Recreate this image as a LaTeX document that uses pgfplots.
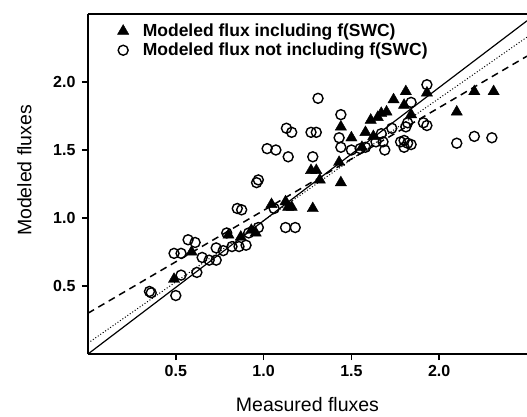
\documentclass[border=0pt]{standalone}
\usepackage{pgfplots}
\pgfplotsset{compat=1.18}
\usepackage{fontspec}
\setmainfont{Liberation Sans}
\begin{document}
\begin{tikzpicture}
\begin{axis}[
  scale only axis,
  width=439pt, height=340pt,
  xmin=0, xmax=2.5, ymin=0, ymax=2.5,
  axis x line*=box, axis y line*=left,
  xtick pos=bottom,
  axis line style={line width=2pt},
  xtick={0.5,1,1.5,2}, ytick={0.5,1,1.5,2},
  tick align=outside, major tick length=6pt,
  tick style={line width=1.5pt, black},
  /pgf/number format/assume math mode=true,
  /pgf/number format/.cd, fixed, fixed zerofill, precision=1, /pgfplots/.cd,
  ticklabel style={font=\fontsize{16}{18}\selectfont\bfseries},
  xticklabel style={yshift=-2pt},
  yticklabel style={xshift=-3pt},
  xlabel={Measured fluxes}, ylabel={Modeled fluxes},
  label style={font=\fontsize{19.5}{22}\selectfont},
  xlabel style={at={(axis description cs:0.5,-0.15)}, anchor=center},
  ylabel style={at={(axis description cs:-0.145,0.54)}, anchor=center},
  legend style={at={(axis description cs:0.06,0.983)}, anchor=north west, draw=none, fill=none,
    font=\fontsize{17.5}{20}\selectfont\bfseries, row sep=1pt},
  legend cell align=left,
  clip=false,
]
\addplot[only marks, mark=triangle*, mark size=6.5pt, black] coordinates {
(0.49,0.55) (0.59,0.75) (0.80,0.875) (0.87,0.86) (0.93,0.91) (0.955,0.89)
(1.045,1.10) (1.125,1.12) (1.14,1.08) (1.16,1.08) (1.28,1.07) (1.27,1.35)
(1.30,1.35) (1.32,1.28) (1.43,1.41) (1.44,1.67) (1.50,1.59) (1.56,1.52)
(1.58,1.63) (1.61,1.72) (1.65,1.74) (1.67,1.77) (1.70,1.78) (1.625,1.60)
(1.74,1.87) (1.81,1.93) (1.80,1.83) (1.84,1.76) (1.93,1.92) (2.10,1.78)
(2.20,1.93) (2.31,1.93) (1.44,1.26)
};
\addlegendentry{\hspace{12pt}Modeled flux including f(SWC)}
\addplot[only marks, mark=o, mark size=5pt, black, mark options={line width=1.4pt, fill=white}] coordinates {
(0.35,0.46) (0.36,0.45) (0.50,0.43) (0.53,0.58) (0.49,0.74) (0.53,0.74)
(0.57,0.84) (0.61,0.82) (0.62,0.60) (0.65,0.71) (0.69,0.69) (0.73,0.69)
(0.73,0.78) (0.77,0.76) (0.79,0.89) (0.82,0.79) (0.86,0.79) (0.85,1.07)
(0.875,1.06) (0.90,0.80) (0.915,0.89) (0.96,1.26) (0.97,1.28) (0.97,0.93)
(1.06,1.07) (1.02,1.51) (1.07,1.50) (1.125,0.93) (1.18,0.93) (1.14,1.45)
(1.13,1.66) (1.16,1.63) (1.27,1.63) (1.30,1.63) (1.28,1.45) (1.31,1.88)
(1.44,1.76) (1.43,1.59) (1.44,1.52) (1.50,1.50) (1.55,1.51) (1.58,1.52)
(1.64,1.56) (1.68,1.56) (1.69,1.50) (1.67,1.62) (1.73,1.66) (1.78,1.56)
(1.82,1.55) (1.91,1.70) (1.93,1.98) (1.81,1.67) (1.82,1.70) (1.80,1.57)
(1.84,1.54) (1.80,1.52) (1.84,1.85) (2.10,1.55) (2.20,1.60) (2.30,1.59)
(1.93,1.68)
};
\addlegendentry{\hspace{12pt}Modeled flux not including f(SWC)}
\addplot[black, line width=1.2pt, forget plot] coordinates {(0,0) (2.5,2.45)};
\addplot[black, line width=1pt, dotted, forget plot] coordinates {(0,0.08) (2.5,2.33)};
\addplot[black, line width=1.5pt, dash pattern=on 7pt off 5pt, forget plot] coordinates {(0,0.30) (2.5,2.19)};
\end{axis}
\pgfresetboundingbox
\path ([xshift=-88pt,yshift=14pt]current axis.north west) rectangle ([yshift=-63pt]current axis.south east);
\end{tikzpicture}
\end{document}
